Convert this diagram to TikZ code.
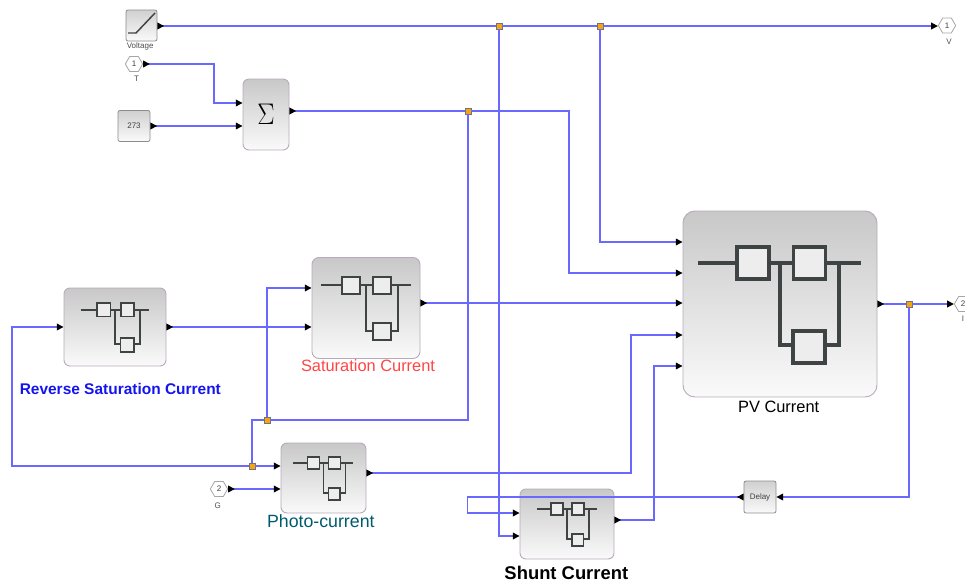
\documentclass[tikz,border=0pt]{standalone}
\usepackage{fontspec}
\setmainfont{Liberation Sans}
\usepackage{xcolor}
\usepackage{tikz}
\usetikzlibrary{arrows.meta, positioning, shapes.geometric, calc}

\definecolor{wireblue}{RGB}{105,105,255}
\definecolor{blocktop}{RGB}{200,200,200}
\definecolor{blockbot}{RGB}{250,250,250}
\definecolor{blockedge}{RGB}{184,170,186}
\definecolor{iconline}{RGB}{62,68,68}
\definecolor{juncfill}{RGB}{245,165,20}

\tikzset{
  superblock/.style n args={3}{rectangle, draw=blockedge, line width=.7pt, top color=blocktop, bottom color=blockbot,
    rounded corners=#3*.75pt, minimum width=#1*.75pt, minimum height=#2*.75pt, inner sep=0pt},
  smallblock/.style 2 args={rectangle, draw=black!45, line width=.6pt, top color=blocktop!85, bottom color=blockbot,
    rounded corners=1.5pt, minimum width=#1*.75pt, minimum height=#2*.75pt, inner sep=0pt, font=\fontsize{6}{7}\selectfont, text=black!75},
  hexport/.style={regular polygon, regular polygon sides=6, draw=black!35, fill=white, line width=.6pt,
    minimum size=13pt, inner sep=0pt, font=\fontsize{6}{7}\selectfont, text=black!75},
  tinylabel/.style={inner sep=0pt, font=\fontsize{6}{7}\selectfont, text=black!70},
  biglabel/.style={inner sep=0pt, font=\fontsize{12.3}{14}\selectfont},
  junc/.style={rectangle, draw=black!55, fill=juncfill, line width=.3pt, minimum size=4.5pt, inner sep=0pt},
  wire/.style={draw=wireblue, line width=1pt, -{Triangle[length=5pt,width=5pt,black]}},
  outwire/.style={wire, {Triangle[reversed,length=5pt,width=5pt,black]}-{Triangle[length=5pt,width=5pt,black]}},
  outbare/.style={wire, {Triangle[reversed,length=5pt,width=5pt,black]}-},
  plain/.style={draw=wireblue, line width=1pt},
  iconpath/.style={draw=iconline, line width=#1}
}

% subsystem icon: centre, scale, line width
\newcommand{\subsysicon}[3]{
  \begin{scope}[shift={(#1)}, scale=#2]
    \draw[iconpath=#3] (-82,-41) -- (81,-41);
    \draw[iconpath=#3] (0,-41) -- (0,41) -- (59,41) -- (59,-41);
    \foreach \bx/\by in {-27/-41, 29.5/-41, 29/43}
      \draw[iconpath=#3, fill=black!7] (\bx-16,\by-16) rectangle (\bx+16,\by+16);
  \end{scope}
}

\begin{document}
\begin{tikzpicture}[x=.75pt, y=-.75pt]
  \useasboundingbox (0,0) rectangle (965,586);

  % blocks
  \node[smallblock={31}{31}] (voltage) at (141.5,25.5) {};
  \node[hexport] (tin) at (134,64) {1};
  \node[smallblock={32}{31}] (const) at (134,126) {273};
  \node[superblock={46}{71}{6}] (sum) at (266,114.5) {\scalebox{.78}[.9]{\fontsize{30}{30}\selectfont$\Sigma$}};
  \node[superblock={102}{78}{6}] (rev) at (115,327) {};
  \node[superblock={108}{101}{7}] (sat) at (366,308) {};
  \node[superblock={85}{70}{6}] (photo) at (323.5,478) {};
  \node[superblock={94}{70}{6}] (shunt) at (567,524) {};
  \node[superblock={194}{186}{12}] (pv) at (780,304) {};
  \node[smallblock={32}{32}] (delay) at (760,497) {Delay};
  \node[hexport] (gin) at (219,489) {2};
  \node[hexport] (vout) at (947,25.5) {1};
  \node[hexport] (iout) at (963,304) {2};

  % icons
  \draw[iconpath=1.1pt] (128,33) -- (136,33) -- (155,13);
  \subsysicon{sat.center}{.55}{1.5pt}
  \subsysicon{rev.center}{.42}{1.3pt}
  \subsysicon{photo.center}{.37}{1.2pt}
  \subsysicon{shunt.center}{.37}{1.2pt}
  \subsysicon{pv.center}{1}{2.5pt}

  % labels
  \node[tinylabel, below=.5pt of voltage, xshift=-1pt] (voltlbl) {Voltage};
  \node[tinylabel, below=2.5pt of tin, xshift=2pt] (tlbl) {T};
  \node[tinylabel, below=4.5pt of gin, xshift=-1pt] (glbl) {G};
  \node[tinylabel, below=4pt of vout, xshift=1.5pt] (vlbl) {V};
  \node[tinylabel, below=3pt of iout] (ilbl) {I};
  \node[biglabel, below=2.5pt of pv, xshift=-1pt] (pvlbl) {PV Current};
  \node[biglabel, below=.5pt of sat, xshift=1.5pt, text={rgb,255:red,255;green,68;blue,68}] (satlbl) {Saturation Current};
  \node[biglabel, below=.5pt of photo, xshift=-2pt, font=\fontsize{13.3}{15}\selectfont, text={rgb,255:red,0;green,90;blue,110}] (photolbl) {Photo-current};
  \node[inner sep=0pt, below=12.5pt of rev, xshift=4pt, text={rgb,255:red,20;green,20;blue,240}, font=\fontsize{11.6}{14}\selectfont\bfseries] (revlbl) {Reverse Saturation Current};
  \node[inner sep=0pt, below=4.5pt of shunt, xshift=-.5pt, font=\fontsize{13.8}{16}\selectfont\bfseries] (shuntlbl) {Shunt Current};

  % junctions
  \node[junc] (jva) at (499,26) {};
  \node[junc] (jvb) at (600,26) {};
  \node[junc] (jsum) at (468,111) {};
  \node[junc] (jsat) at (267,420) {};
  \node[junc] (jrev) at (252,466) {};
  \node[junc] (jpv) at (909,304) {};

  % wires
  \draw[outbare] (voltage.east |- jva) -- (jva);
  \draw[plain] (jva) -- (jvb);
  \draw[wire] (jvb) -- (vout.west |- jvb);
  \draw[wire] (jvb) |- (pv.west |- 0,242);
  \draw[wire] (jva) |- (shunt.west |- 0,536);
  \draw[outwire] (tin.east) -- ++(71,0) |- (sum.west |- 0,103);
  \draw[outwire] (const.east) -- (sum.west |- const.east);
  \draw[outbare] (sum.east |- jsum) -- (jsum);
  \draw[wire] (jsum) -- ++(101,0) |- (pv.west |- 0,273);
  \draw[plain] (jsum) |- (jsat);
  \draw[wire] (jsat) |- (sat.west |- 0,288);
  \draw[plain] (jsat) -| (jrev);
  \draw[wire] (jrev) -- (photo.west |- jrev);
  \draw[wire] (jrev) -- ++(-240,0) |- (rev.west);
  \draw[outwire] (rev.east) -- (sat.west |- rev.east);
  \draw[outwire] (sat.east |- 0,303) -- (pv.west |- 0,303);
  \draw[outwire] (gin.east) -- (photo.west |- gin.east);
  \draw[outwire] (photo.east |- 0,473) -| (631,400) |- (pv.west |- 0,335);
  \draw[outwire] (shunt.east |- 0,520) -| (654,400) |- (pv.west |- 0,366);
  \draw[outbare] (pv.east |- jpv) -- (jpv);
  \draw[wire] (jpv) -- (iout.west |- jpv);
  \draw[wire] (jpv) |- (delay.east);
  \draw[outwire] (delay.west) -- ++(-276,0) |- (shunt.west |- 0,513);
\end{tikzpicture}
\end{document}
